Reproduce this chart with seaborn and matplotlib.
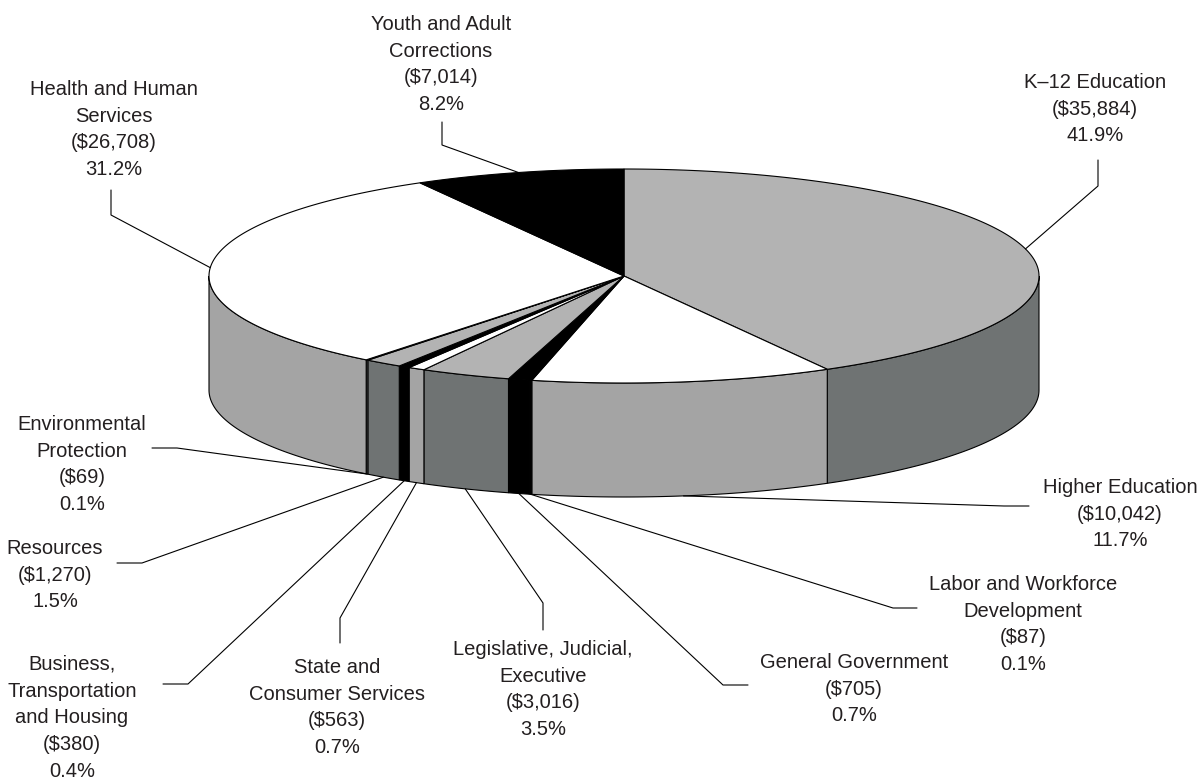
# 3-D pie: state General Fund spending by program area (dollars in millions)

import numpy as np
import seaborn as sns
import matplotlib.pyplot as plt
from matplotlib.patches import Polygon

# ---- data (clockwise from 12 o'clock) ----
names = ["K\u201312 Education", "Higher Education", "Labor and Workforce\nDevelopment",
         "General Government", "Legislative, Judicial,\nExecutive", "State and\nConsumer Services",
         "Business,\nTransportation\nand Housing", "Resources", "Environmental\nProtection",
         "Health and Human\nServices", "Youth and Adult\nCorrections"]
amounts = [35884, 10042, 87, 705, 3016, 563, 380, 1270, 69, 26708, 7014]
pct_labels = ["41.9%", "11.7%", "0.1%", "0.7%", "3.5%", "0.7%", "0.4%", "1.5%", "0.1%", "31.2%", "8.2%"]
shades = ["gray", "white", "black", "black", "gray", "white", "black", "gray", "gray", "white", "black"]

# ---- styling / layout (pixel space of a 1201x781 canvas) ----
top_col = {"gray": "#b3b3b3", "white": "#ffffff", "black": "#000000"}
side_col = {"gray": "#6f7373", "white": "#a4a4a4", "black": "#000000"}
cx, cy, rx, ry, depth = 624, 276, 415, 107, 114
line_step = 26.7
# text centre x, first baseline y, outer stub end, inner stub end (elbow)
label_layout = [
    (1095, 88, (1098, 160), (1098, 186)),
    (1120, 493, (1029, 506), (1004, 506)),
    (1023, 590, (917, 608), (893, 608)),
    (854, 668, (748, 685), (723, 685)),
    (543, 655, (543, 630), (543, 603)),
    (337, 673, (340, 643), (340, 618)),
    (72, 670, (163, 684), (188, 684)),
    (55, 554, (117, 563), (142, 563)),
    (82, 430, (152, 448), (177, 448)),
    (114, 95, (111, 190), (111, 215)),
    (441, 30, (442, 122), (442, 145)),
]

sns.set_style("white")
plt.rcParams['font.family'] = ['Liberation Sans', 'DejaVu Sans']

fig = plt.figure(figsize=(12.01, 7.81), dpi=100)
ax = fig.add_axes([0, 0, 1, 1])
ax.set_xlim(0, 1201)
ax.set_ylim(781, 0)
ax.axis('off')


def rim(a0, a1, drop=0.0):
    n = max(2, int(abs(a1 - a0) * 2))
    t = np.radians(np.linspace(a0, a1, n))
    return np.column_stack([cx + rx * np.cos(t), cy - ry * np.sin(t) + drop])


vals = np.array(amounts, dtype=float)
cum = np.concatenate([[0], np.cumsum(vals) / vals.sum()])
starts = 90 - cum[:-1] * 360
ends = 90 - cum[1:] * 360

# side walls (only the front half, -180..0 deg, is visible)
for a0, a1, s in zip(starts, ends, shades):
    hi, lo = min(a0, 0), max(a1, -180)
    if hi <= lo:
        continue
    top = rim(hi, lo)
    bot = rim(lo, hi, depth)
    ax.add_patch(Polygon(np.vstack([top, bot]), closed=True, facecolor=side_col[s],
                         edgecolor='black', linewidth=0.8, joinstyle='miter'))

# top face
for a0, a1, s in zip(starts, ends, shades):
    pts = np.vstack([[cx, cy], rim(a0, a1)])
    ax.add_patch(Polygon(pts, closed=True, facecolor=top_col[s],
                         edgecolor='black', linewidth=0.8, joinstyle='miter'))

# labels and leader lines
for name, amt, pct, a0, a1, lay in zip(names, amounts, pct_labels, starts, ends, label_layout):
    tx, ty, p_out, p_in = lay
    mid = np.radians((a0 + a1) / 2)
    drop = depth if np.sin(mid) < 0 else 0
    anchor = (cx + rx * np.cos(mid), cy - ry * np.sin(mid) + drop)
    xs = [p_out[0], p_in[0], anchor[0]]
    ys = [p_out[1], p_in[1], anchor[1]]
    ax.plot(xs, ys, color='black', linewidth=0.8)
    lines = name.split("\n") + [f"(${amt:,})", pct]
    for i, ln in enumerate(lines):
        ax.text(tx, ty + i * line_step, ln, ha='center', va='baseline',
                fontsize=14.5, color='#231f20')

plt.savefig('out.png', dpi=100)
